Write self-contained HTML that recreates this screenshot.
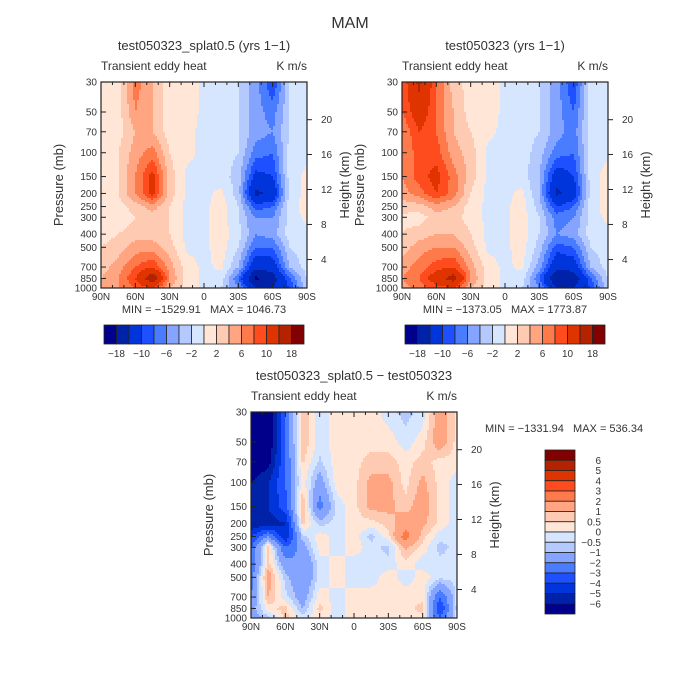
<!DOCTYPE html>
<html><head><meta charset="utf-8"><style>
body{margin:0;background:#fff;}
svg{display:block;font-family:"Liberation Sans",sans-serif;}
text{fill:#333;white-space:pre;}
</style></head><body>
<svg id="c" width="700" height="700" viewBox="0 0 700 700">
<text x="350" y="28" font-size="16" text-anchor="middle">MAM</text>
</svg>
<script>
const lats=['90N','60N','30N','0','30S','60S','90S'];
const pressures=[30,50,70,100,150,200,250,300,400,500,700,850,1000];
const pLabels=[30,50,70,100,150,200,250,300,400,500,700,850,1000];
const heightTicks=[4,8,12,16,20];
const heightPressure=[616,339,187,103,57];
const levels1=[-18,-14,-10,-8,-6,-4,-2,0,2,4,6,8,10,14,18];
const cbLabels1=['−18','−10','−6','−2','2','6','10','18'];
const levels3=[-6,-5,-4,-3,-2,-1,-0.5,0,0.5,1,2,3,4,5,6];
const cbLabels3=['6','5','4','3','2','1','0.5','0','−0.5','−1','−2','−3','−4','−5','−6'];
const colors=['#00008a','#0022a8','#0035dc','#1e50ff','#4a7cff','#84a4ff','#b4caff','#d6e6ff','#ffe6d6','#ffcab2','#ffa582','#ff7a4a','#ff4c1e','#e03400','#b42200','#820000'];
const data1=[
[1,1,7,4,1,1,-0.5,-1,-2,-5,-10,-2,-1],
[1,1,6,4,1,1,-0.5,-1,-2,-5,-7,-2,-1],
[1,1,4,4,1,0.5,-0.5,-1,-2,-5,-6,-2,-1],
[1,2,5,7,2,0.5,-0.5,-1,-2,-7,-8,-1,-0.5],
[1,2,6,11,3,-0.5,-0.5,-1,-3,-11,-10,-1,0.5],
[1,2,6,11,3,-0.5,-0.5,0.5,-3,-15,-13,-1,0.5],
[0.5,1,3,5,2,-0.5,-0.5,1,-2,-9,-8,-1,1],
[1,0.5,2,3,2,-0.5,-0.5,1,-2,-6,-6,-1,0.5],
[1,2,3,3,2,-0.5,-0.5,1,-1,-6,-5,-1,-0.5],
[2,3,5,5,3,-0.5,-0.5,1,-2,-8,-8,-2,-0.5],
[3,5,8,10,5,1,-0.5,0.5,-4,-13,-12,-4,-1],
[4,6,10,17,6,1,-0.5,-1,-8,-19,-16,-8,-2],
[4,6,8,10,4,1,-0.5,-2,-6,-14,-14,-10,-2]];
const data2=[
[8,15,8,3,1,1,-0.5,-1,-2,-5,-10,-1,-0.5],
[8,12,8,4,1,1,-0.5,-1,-2,-5,-8,-1,-0.5],
[6,10,8,4,2,0.5,-0.5,-1,-2,-5,-7,-1,-0.5],
[6,9,9,5,3,-0.5,-0.5,-1,-3,-7,-8,-1,-0.5],
[6,9,11,7,3,-0.5,-0.5,-1,-4,-12,-10,-1,1],
[5,7,10,7,2,-0.5,-0.5,0.5,-4,-15,-12,-1,1],
[3,3,5,4,1,-0.5,-0.5,1,-3,-10,-8,-1,1],
[1.5,1,3,3,1,-0.5,-0.5,1,-2,-7,-6,-1,0.5],
[2,3,4,4,2,-0.5,-0.5,1,-2,-6,-5,-1,-0.5],
[3,5,6,6,3,-0.5,-0.5,1,-3,-9,-8,-2,-0.5],
[5,7,9,10,5,1,-0.5,0.5,-5,-13,-12,-4,-1],
[6,8,12,16,6,1,-0.5,-1,-8,-18,-17,-8,-2],
[5,7,9,10,4,1,-0.5,-2,-6,-14,-14,-10,-2]];
const data3=[
[-7,-7,-3,1,-0.3,0.3,0.3,0.3,-0.3,-0.7,-0.3,1.5,0.3],
[-7,-7,-3,1,-0.3,0.3,0.3,0.3,0.3,-0.3,0.3,1.5,0.3],
[-7,-6.5,-3,0.6,-0.6,0.3,0.3,0.7,0.7,0.3,0.7,0.3,0.3],
[-6,-5,-3,0.3,-1.5,0.3,0.3,1.2,1.2,0.3,1.2,0.3,-0.3],
[-6,-5,-3.5,1,-2.5,-0.3,0.3,1.2,1.2,0.7,1.5,0.3,-0.3],
[-6,-5.5,-5,0.7,-0.7,-0.3,0.3,0.3,0.7,1.5,1.2,0.3,-0.3],
[-4,-2,-5,-0.7,0.3,-0.3,0.3,-0.7,0.3,2.5,0.7,-0.3,-0.3],
[-3,0.7,-3,-1.5,0.3,-0.3,0.3,-0.3,-0.7,1.2,0.3,-0.7,-0.3],
[-3,0.7,-1.5,-2,-0.3,0.3,-0.3,-0.3,-0.3,0.3,-0.3,-0.3,-0.3],
[-2.5,1.5,-0.7,-2,-0.3,0.3,-0.3,-0.3,0.3,-0.3,0.3,-0.3,-0.3],
[-2,1,-0.3,-1.5,0.3,-0.3,0.3,0.3,0.3,0.3,0.3,-3,-0.3],
[-1.5,0.3,0.7,-1,0.7,-0.3,0.3,0.3,0.3,0.3,0.7,-4,-0.3],
[-1.5,-0.7,0.7,-0.3,0.3,-0.3,0.3,0.3,0.3,0.3,0.3,-3,-0.3]];

const NS='http://www.w3.org/2000/svg';
const svg=document.getElementById('c');
function mk(tag,attrs,parent){const e=document.createElementNS(NS,tag);for(const k in attrs)e.setAttribute(k,attrs[k]);(parent||svg).appendChild(e);return e;}
function txt(x,y,s,size,anchor,parent){const t=mk('text',{x:x,y:y,'font-size':size,'text-anchor':anchor||'middle'},parent);t.textContent=s;return t;}

function panel(px,py,W,H,data,levels,title,name){
  const g=mk('g',{});
  
  
  const L=Math.log(1000/30);
  const yOfP=p=>py+H*Math.log(p/30)/L;
  const nC=data[0].length;
  const lp=pressures.map(p=>Math.log(p));
  function val(fx,fy){
    const cx=fx*(nC-1);const i=Math.min(nC-2,Math.floor(cx));const tx=cx-i;
    const lpv=Math.log(30)+fy*L;let j=0;while(j<pressures.length-2&&lp[j+1]<lpv)j++;
    const ty=(lpv-lp[j])/(lp[j+1]-lp[j]);
    const a=data[j][i]*(1-tx)+data[j][i+1]*tx;const b=data[j+1][i]*(1-tx)+data[j+1][i+1]*tx;
    return a*(1-ty)+b*ty;
  }
  function idx(v){let k=0;while(k<levels.length&&v>=levels[k])k++;return k;}
  const cell=2;
  for(let y=0;y<H;y+=cell){
    let runStart=0,runC=-1;
    for(let x=0;x<=W;x+=cell){
      const c=x<W?idx(val((x+cell/2)/W,(y+cell/2)/H)):-2;
      if(c!==runC){
        if(runC>=0){const r=mk('rect',{x:px+runStart,y:py+y,width:Math.min(x,W)-runStart,height:Math.min(cell,H-y)+0.5,fill:colors[runC]},g);
          
          }
        runStart=x;runC=c;
      }
    }
  }
  mk('rect',{x:px,y:py,width:W,height:H,fill:'none',stroke:'#222','stroke-width':1.2},g);
  for(let k=0;k<=18;k++){
    const x=px+W*k/18;const len=k%3===0?5:3;
    mk('line',{x1:x,y1:py+H,x2:x,y2:py+H-len,stroke:'#222'},g);
    mk('line',{x1:x,y1:py,x2:x,y2:py+len,stroke:'#222'},g);
  }
  lats.forEach((s,i)=>{const t=txt(px+W*i/6,py+H+12,s,10,'middle',g);
    });
  pLabels.forEach(p=>{const y=yOfP(p);mk('line',{x1:px,y1:y,x2:px+5,y2:y,stroke:'#222'},g);
    const t=txt(px-4,y+3.5,String(p),10,'end',g);
    });
  heightTicks.forEach((h,i)=>{const y=yOfP(heightPressure[i]);mk('line',{x1:px+W,y1:y,x2:px+W+5,y2:y,stroke:'#222'},g);
    const t=txt(px+W+14,y+3.5,String(h),10,'start',g);
    });
  const tt=txt(px+W/2,py-32,title,13,'middle',g);
  const l=txt(px,py-12,'Transient eddy heat',12,'start',g);
  const u=txt(px+W,py-12,'K m/s',12,'end',g);
  const yt=txt(0,0,'Pressure (mb)',13,'middle',g);yt.setAttribute('transform',`translate(${px-38},${py+H/2}) rotate(-90)`);
  
  const ht=txt(0,0,'Height (km)',13,'middle',g);ht.setAttribute('transform',`translate(${px+W+42},${py+H/2}) rotate(-90)`);
  
}
function hbar(x,y,w,h,labels){
  const g=mk('g',{});
  const bw=w/colors.length;
  colors.forEach((c,i)=>{const r=mk('rect',{x:x+i*bw,y:y,width:bw,height:h,fill:c,stroke:'#222','stroke-width':0.8},g);
    });
  labels.forEach((s,i)=>{const t=txt(x+bw*(1+2*i),y+h+13,s,10,'middle',g);
    });
}
function vbar(x,y,w,h,labels){
  const g=mk('g',{});
  const bh=h/colors.length;
  colors.slice().reverse().forEach((c,i)=>{const r=mk('rect',{x:x,y:y+i*bh,width:w,height:bh,fill:c,stroke:'#222','stroke-width':0.8},g);
    });
  labels.forEach((s,i)=>{const t=txt(x+w+26,y+bh*(i+1)+3.5,s,10,'end',g);
    });
}
panel(101,82,206,206,data1,levels1,'test050323_splat0.5 (yrs 1−1)','panel-splat');
panel(402,82,206,206,data2,levels1,'test050323 (yrs 1−1)','panel-control');
panel(251,412,206,206,data3,levels3,'test050323_splat0.5 − test050323','panel-difference');
let m=txt(204,313,'MIN = −1529.91   MAX = 1046.73',11);
m=txt(505,313,'MIN = −1373.05   MAX = 1773.87',11);
m=txt(485,432,'MIN = −1331.94   MAX = 536.34',11,'start');
hbar(104,325,200,19,cbLabels1);
hbar(405,325,200,19,cbLabels1);
vbar(545,450,30,164,cbLabels3);
</script>
</body></html>
